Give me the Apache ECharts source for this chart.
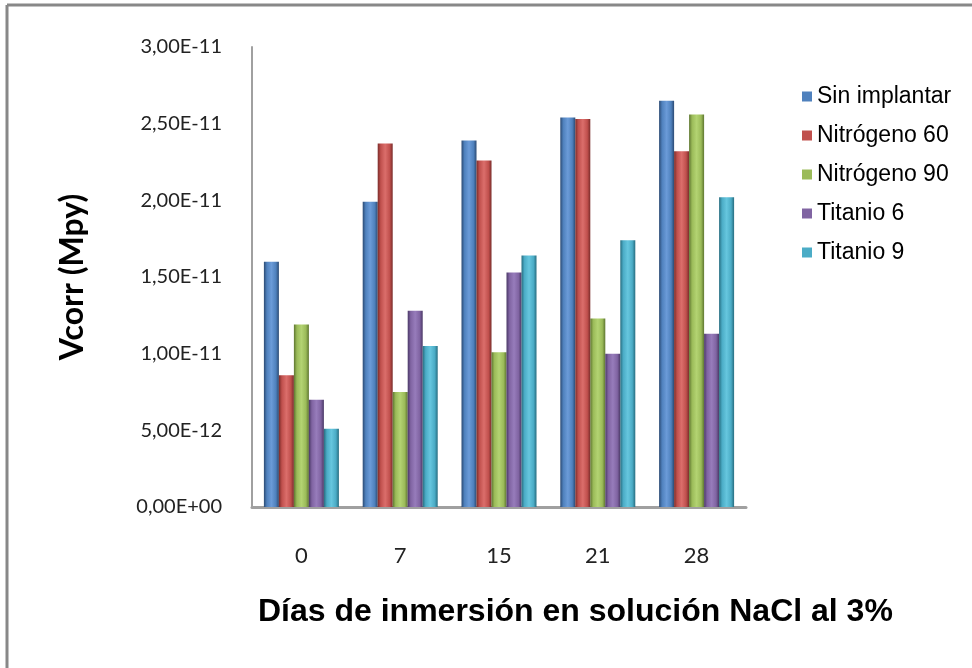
<!DOCTYPE html>
<html>
<head>
<meta charset="utf-8">
<script src="https://cdn.jsdelivr.net/npm/echarts@6/dist/echarts.min.js"></script>
<style>
  html, body { margin: 0; padding: 0; background: #fff; }
  #chart { width: 972px; height: 668px; }
</style>
</head>
<body>
<div id="chart"></div>
<script>
// Immersion days in 3% NaCl solution
const days = ['0', '7', '15', '21', '28'];

// Corrosion rate (Mpy) per treatment
const sinImplantar = [1.60e-11, 1.99e-11, 2.39e-11, 2.54e-11, 2.65e-11];
const nitrogeno60  = [0.86e-11, 2.37e-11, 2.26e-11, 2.53e-11, 2.32e-11];
const nitrogeno90  = [1.19e-11, 0.75e-11, 1.01e-11, 1.23e-11, 2.56e-11];
const titanio6     = [0.70e-11, 1.28e-11, 1.53e-11, 1.00e-11, 1.13e-11];
const titanio9     = [0.51e-11, 1.05e-11, 1.64e-11, 1.74e-11, 2.02e-11];

const seriesNames = ['Sin implantar', 'Nitrógeno 60', 'Nitrógeno 90', 'Titanio 6', 'Titanio 9'];
const seriesData = [sinImplantar, nitrogeno60, nitrogeno90, titanio6, titanio9];

// base, dark edge, highlight
const palette = [
  ['#4F81BD', '#2B4A73', '#6B9BD8'],
  ['#C0504D', '#7A2C2A', '#DB6E6B'],
  ['#9BBB59', '#5E7630', '#B3D372'],
  ['#8064A2', '#4A3866', '#977CBB'],
  ['#4BACC6', '#276D80', '#66C6DE']
];

function cylinder(c) {
  return new echarts.graphic.LinearGradient(0, 0, 1, 0, [
    { offset: 0, color: c[1] },
    { offset: 0.2, color: c[0] },
    { offset: 0.5, color: c[2] },
    { offset: 0.8, color: c[0] },
    { offset: 1, color: c[1] }
  ]);
}

function sciLabel(v) {
  const s = Number(v).toExponential(2);           // e.g. "1.50e-11"
  let [mant, exp] = s.split('e');
  const sign = exp[0] === '-' ? '-' : '+';
  let digits = exp.replace(/[+-]/, '');
  if (digits.length < 2) digits = '0' + digits;
  return mant.replace('.', ',') + 'E' + sign + digits;
}

const chart = echarts.init(document.getElementById('chart'), null, { renderer: 'canvas' });

chart.setOption({
  animation: false,
  backgroundColor: '#ffffff',
  grid: { left: 252, right: 226, top: 47, bottom: 161, containLabel: false },
  legend: {
    orient: 'vertical',
    left: 797,
    top: 80,
    icon: 'rect',
    itemWidth: 10,
    itemHeight: 10,
    itemGap: 16,
    textStyle: { fontFamily: 'Liberation Sans', fontSize: 23, color: '#000' },
    data: seriesNames.map((n, i) => ({ name: n, itemStyle: { color: palette[i][0] } }))
  },
  xAxis: {
    type: 'category',
    data: days,
    axisLine: { show: true, lineStyle: { color: '#a0a0a0', width: 3 } },
    axisTick: { show: false },
    axisLabel: { margin: 38, fontFamily: 'Lato', fontSize: 22, color: '#222' }
  },
  yAxis: {
    type: 'value',
    min: 0,
    max: 3e-11,
    interval: 5e-12,
    name: 'Vcorr (Mpy)',
    nameLocation: 'middle',
    nameRotate: 90,
    nameGap: 163,
    nameTextStyle: { fontFamily: 'Lato', fontWeight: 'bold', fontSize: 32, color: '#000' },
    axisLine: { show: true, lineStyle: { color: '#a0a0a0', width: 2 } },
    axisTick: { show: false },
    splitLine: { show: false },
    axisLabel: { margin: 30, fontFamily: 'Lato', fontSize: 20, color: '#222', formatter: sciLabel }
  },
  series: seriesNames.map((n, i) => ({
    name: n,
    type: 'bar',
    data: seriesData[i],
    barWidth: 15,
    barGap: '0%',
    itemStyle: { color: cylinder(palette[i]) }
  })),
  graphic: [
    { type: 'line', shape: { x1: 7, y1: 5, x2: 972, y2: 5 }, style: { stroke: '#888', lineWidth: 3 } },
    { type: 'line', shape: { x1: 7, y1: 5, x2: 7, y2: 668 }, style: { stroke: '#888', lineWidth: 3 } },
    {
      type: 'text',
      left: 258,
      top: 596,
      style: {
        text: 'Días de inmersión en solución NaCl al 3%',
        font: 'bold 32px "Liberation Sans", sans-serif',
        fill: '#000'
      }
    }
  ]
});
</script>
</body>
</html>
